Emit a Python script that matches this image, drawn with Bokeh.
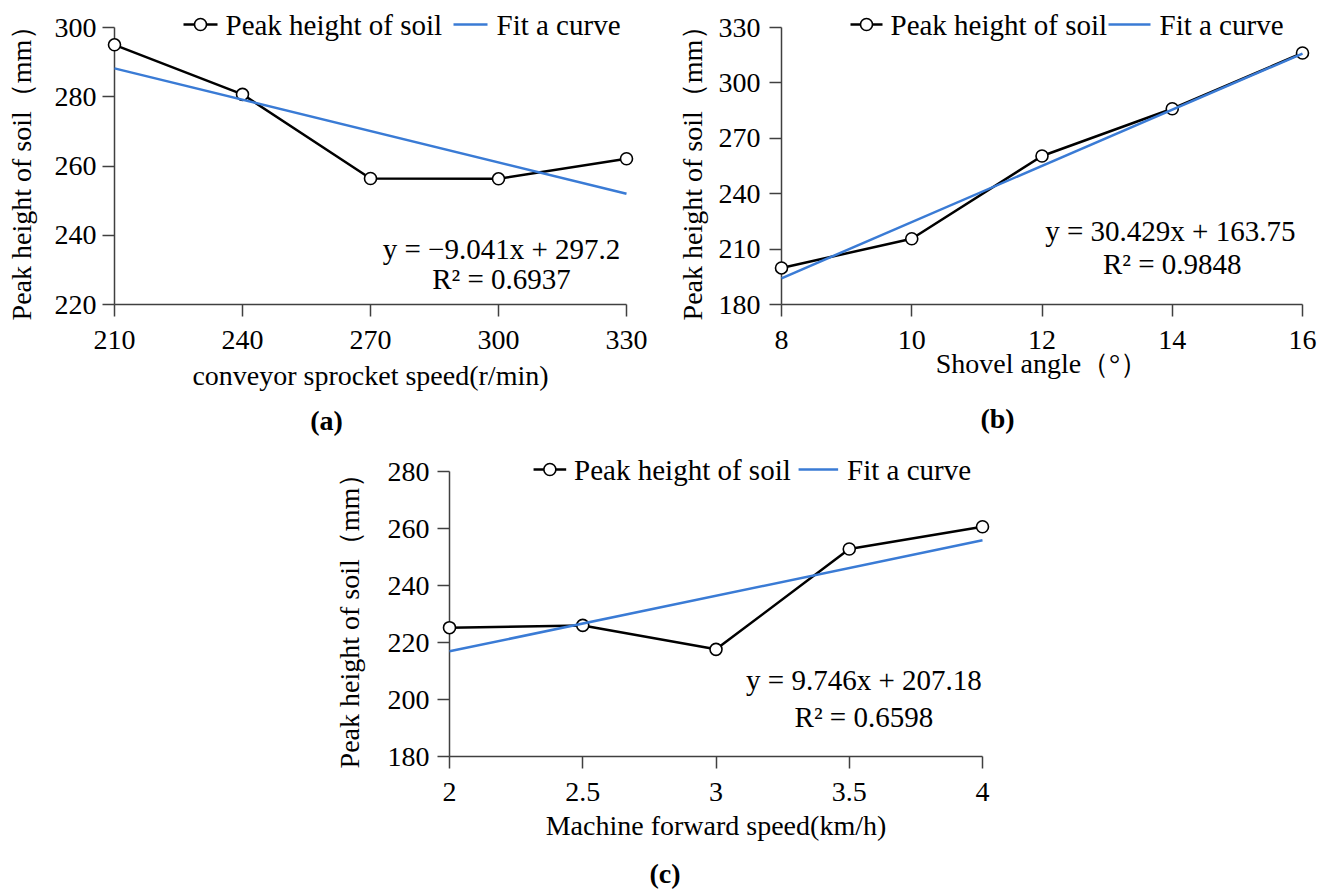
from bokeh.plotting import figure
from bokeh.models import (Range1d, FixedTicker, Label, Spacer,
                          CustomJSTickFormatter)
from bokeh.core.properties import value
from bokeh.layouts import row, column
from bokeh.embed import file_html
from bokeh.resources import INLINE

FONT = "Liberation Serif"
BLUE = "#3A7BD5"
AXIS = "#404040"

# ---------------- data ----------------
# (a) conveyor sprocket speed
a_speed = [210, 240, 270, 300, 330]
a_height = [295.0, 280.7, 256.4, 256.3, 262.1]
a_fit_x = [210, 330]
a_fit_y = [288.2, 252.0]
a_xticks = [210, 240, 270, 300, 330]
a_yticks = [220, 240, 260, 280, 300]
a_eq = "y = \u22129.041x + 297.2"
a_r2 = "R\u00b2 = 0.6937"

# (b) shovel angle
b_angle = [8, 10, 12, 14, 16]
b_height = [199.8, 215.6, 260.4, 286.0, 316.2]
b_fit_x = [8, 16]
b_fit_y = [194.2, 315.9]
b_xticks = [8, 10, 12, 14, 16]
b_yticks = [180, 210, 240, 270, 300, 330]
b_eq = "y = 30.429x + 163.75"
b_r2 = "R\u00b2 = 0.9848"

# (c) machine forward speed
c_speed = [2, 2.5, 3, 3.5, 4]
c_height = [225.2, 226.0, 217.6, 252.8, 260.6]
c_fit_x = [2, 4]
c_fit_y = [216.9, 255.9]
c_xticks = [2, 2.5, 3, 3.5, 4]
c_yticks = [180, 200, 220, 240, 260, 280]
c_eq = "y = 9.746x + 207.18"
c_r2 = "R\u00b2 = 0.6598"

Y_TITLE = "Peak height of soil\uff08mm\uff09"
SERIES1 = "Peak height of soil"
SERIES2 = "Fit a curve"


def panel(w, h, bl, br, bt, bb, xr, yr, xt, yt, xlab, x, y, fx, fy,
          leg, eq, r2, eq_xy, r2_xy, cap, cap_xy,
          ylab_standoff, xlab_standoff, ytick_standoff, xtick_standoff):
    p = figure(width=w, height=h, x_range=Range1d(*xr), y_range=Range1d(*yr),
               output_backend="svg", toolbar_location=None,
               min_border_left=bl, min_border_right=br,
               min_border_top=bt, min_border_bottom=bb)
    p.outline_line_color = None
    p.xgrid.visible = False
    p.ygrid.visible = False
    p.background_fill_color = "white"
    p.border_fill_color = "white"
    p.xaxis.ticker = FixedTicker(ticks=xt)
    p.yaxis.ticker = FixedTicker(ticks=yt)
    fmt = CustomJSTickFormatter(code="return String(tick);")
    for ax in (p.xaxis[0], p.yaxis[0]):
        ax.formatter = fmt
        ax.axis_line_color = AXIS
        ax.axis_line_width = 1.5
        ax.major_tick_line_color = AXIS
        ax.major_tick_line_width = 1.5
        ax.major_tick_out = 12
        ax.major_tick_in = 0
        ax.minor_tick_line_color = None
        ax.major_label_text_font = FONT
        ax.major_label_text_font_size = "28px"
        ax.major_label_text_color = "black"
        ax.axis_label_text_font = FONT
        ax.axis_label_text_font_size = "28px"
        ax.axis_label_text_font_style = "normal"
        ax.axis_label_text_color = "black"
    p.xaxis.axis_label = xlab
    p.yaxis.axis_label = Y_TITLE
    p.yaxis.axis_label_standoff = ylab_standoff
    p.xaxis.axis_label_standoff = xlab_standoff
    p.yaxis.major_label_standoff = ytick_standoff
    p.xaxis.major_label_standoff = xtick_standoff

    # frame geometry in page pixels, used to place the legend keys and caption
    fl, ft, fw, fh = leg["frame"]

    def dx(px):
        return xr[0] + (px - fl) / fw * (xr[1] - xr[0])

    def dy(py):
        return yr[1] - (py - ft) / fh * (yr[1] - yr[0])

    p.line(x, y, line_color="black", line_width=2.5, level="overlay")
    p.scatter(x, y, size=12, marker="circle", fill_color="white",
              line_color="black", line_width=1.6, level="overlay")
    p.line(fx, fy, line_color=BLUE, line_width=2.5, level="overlay")

    # legend (drawn manually so it can straddle the top of the frame)
    g1a, g1b, t1, g2a, g2b, t2, ly, lt = leg["pos"]
    p.line([dx(g1a), dx(g1b)], [dy(ly), dy(ly)], line_color="black",
           line_width=2.5, level="overlay")
    p.scatter([dx((g1a + g1b) / 2)], [dy(ly)], size=12, marker="circle",
              fill_color="white", line_color="black", line_width=1.6,
              level="overlay")
    p.line([dx(g2a), dx(g2b)], [dy(ly), dy(ly)], line_color=BLUE,
           line_width=2.5, level="overlay")
    p.text([dx(t1), dx(t2)], [dy(lt), dy(lt)], text=[SERIES1, SERIES2],
           text_font=value(FONT), text_font_size=value("29px"),
           text_color="black", text_align="left",
           text_baseline="middle", level="overlay")

    p.add_layout(Label(x=eq_xy[0], y=eq_xy[1], text=eq, text_align="center",
                       text_baseline="middle", text_font=FONT,
                       text_font_size="29px", text_color="black"))
    p.add_layout(Label(x=r2_xy[0], y=r2_xy[1], text=r2, text_align="center",
                       text_baseline="middle", text_font=FONT,
                       text_font_size="29px", text_color="black"))
    p.text([dx(cap_xy[0])], [dy(cap_xy[1])], text=[cap], text_font=value(FONT),
           text_font_size=value("28px"), text_font_style="bold",
           text_color="black", text_align="center", text_baseline="middle",
           level="overlay")
    return p


pa = panel(660, 445, 114, 34, 27, 141, (210, 330), (220, 300), a_xticks, a_yticks,
           "conveyor sprocket speed(r/min)", a_speed, a_height, a_fit_x, a_fit_y,
           {"frame": (114, 27, 512, 277),
            "pos": (183, 217, 225, 453, 487, 496, 24, 24)},
           a_eq, a_r2, (300.7, 235.9), (300.7, 227.3),
           "(a)", (326, 420), 15, 8, 6, 14)

pb = panel(670, 445, 121, 28, 27, 141, (8, 16), (180, 330), b_xticks, b_yticks,
           "Shovel angle\uff08\u00b0\uff09", b_angle, b_height, b_fit_x, b_fit_y,
           {"frame": (781, 27, 521, 277),
            "pos": (850, 882, 890, 1108, 1150, 1159, 24, 24)},
           b_eq, b_r2, (13.97, 219.8), (14.0, 201.8),
           "(b)", (997, 418), 8, -4, 9, 14)

pc = panel(682, 444, 113, 30, 26, 133, (2, 4), (180, 280), c_xticks, c_yticks,
           "Machine forward speed(km/h)", c_speed, c_height, c_fit_x, c_fit_y,
           {"frame": (443, 471, 539, 285),
            "pos": (528, 561, 569, 796, 836, 845, 469, 469)},
           c_eq, c_r2, (3.555, 206.8), (3.555, 193.8),
           "(c)", (661, 873), 20, 6, 8, 14)

layout = column(row(pa, pb), row(Spacer(width=330, height=444), pc))

open("out.html", "w").write(file_html(layout, INLINE))
